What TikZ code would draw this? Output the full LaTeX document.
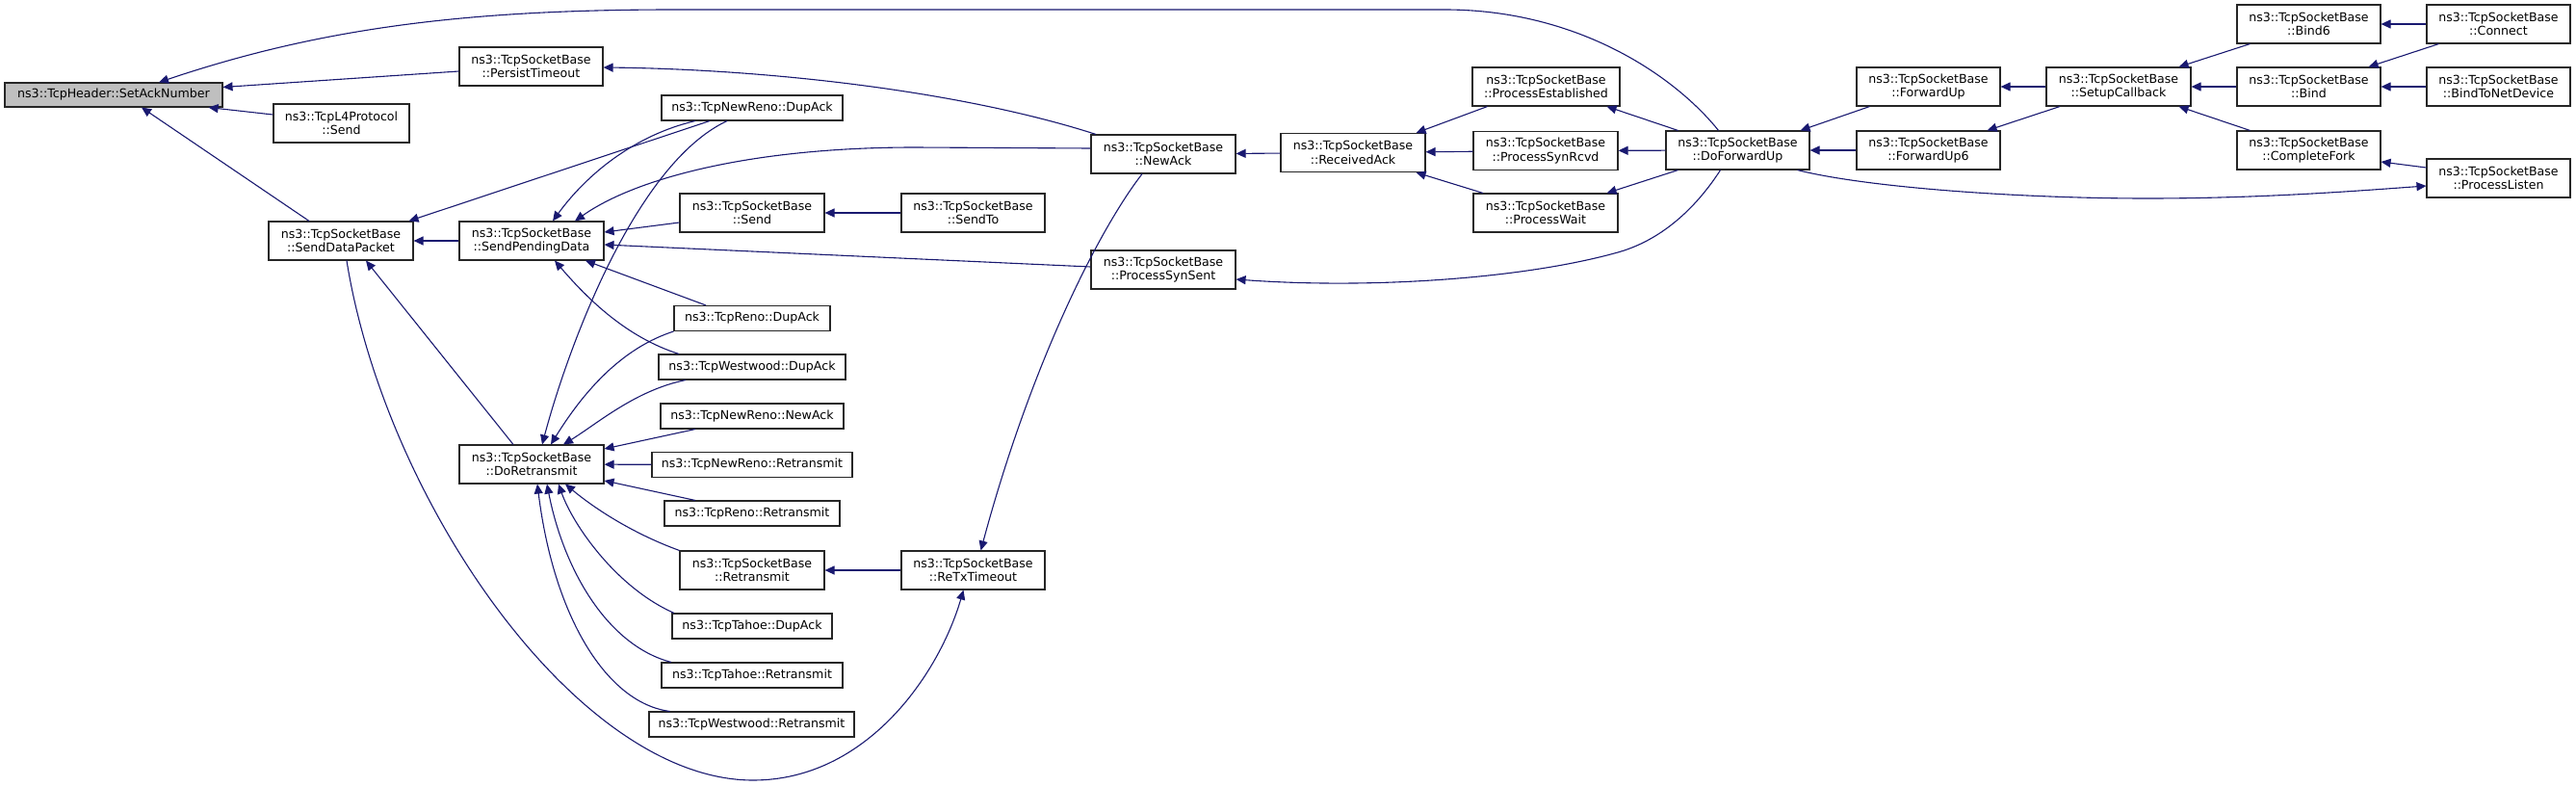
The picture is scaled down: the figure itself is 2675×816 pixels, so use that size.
\documentclass[tikz,border=0pt]{standalone}
\usepackage{fontspec}
\setmainfont{DejaVu Sans}
\usetikzlibrary{arrows.meta}
\definecolor{edgeblue}{HTML}{191970}
\definecolor{rootgray}{HTML}{BFBFBF}

\begin{document}
\begin{tikzpicture}[x=1pt,y=-1pt,>={Triangle[length=10pt,width=9pt]},
  every node/.style={font=\fontsize{12.6}{14.5}\selectfont}]
  \tikzstyle{func}=[rectangle, draw=black!85, fill=white, line width=1.1pt, align=center,
inner sep=2pt, minimum height=40pt, minimum width=150pt]
  \tikzstyle{leaf}=[func, minimum height=26pt]
  \tikzstyle{call}=[<-, edgeblue, line width=1.1pt]
  \tikzstyle{back}=[->, edgeblue, line width=1.1pt]
  \useasboundingbox (0,0) rectangle (2675,816);

  \node[func, fill=rootgray, minimum width=226pt, minimum height=25pt] (SetAck) at (118,98.5) {ns3::TcpHeader::SetAckNumber};
  \node[func, minimum width=149pt] (PersistTO) at (551.5,69) {ns3::TcpSocketBase\\::PersistTimeout};
  \node[func, minimum width=141pt] (L4Send) at (354.5,128) {ns3::TcpL4Protocol\\::Send};
  \node[func] (SendData) at (354,250) {ns3::TcpSocketBase\\::SendDataPacket};
  \node[func] (SendPend) at (552,250) {ns3::TcpSocketBase\\::SendPendingData};
  \node[func] (DoRetx) at (552,482) {ns3::TcpSocketBase\\::DoRetransmit};
  \node[leaf, minimum width=188pt] (NRDupAck) at (781,112) {ns3::TcpNewReno::DupAck};
  \node[func] (Send) at (781,221) {ns3::TcpSocketBase\\::Send};
  \node[func, minimum width=149pt] (SendTo) at (1010.5,221) {ns3::TcpSocketBase\\::SendTo};
  \node[leaf, minimum width=162pt] (RenoDupAck) at (781,330.5) {ns3::TcpReno::DupAck};
  \node[leaf, minimum width=194pt] (WWDupAck) at (781,381) {ns3::TcpWestwood::DupAck};
  \node[leaf, minimum width=190pt] (NRNewAck) at (781,432) {ns3::TcpNewReno::NewAck};
  \node[leaf, minimum width=208pt] (NRRetx) at (781,482.5) {ns3::TcpNewReno::Retransmit};
  \node[leaf, minimum width=182pt] (RenoRetx) at (781,533) {ns3::TcpReno::Retransmit};
  \node[func] (Retx) at (781,592) {ns3::TcpSocketBase\\::Retransmit};
  \node[leaf, minimum width=166pt] (TahoeDupAck) at (781,650) {ns3::TcpTahoe::DupAck};
  \node[leaf, minimum width=188pt] (TahoeRetx) at (781,701) {ns3::TcpTahoe::Retransmit};
  \node[leaf, minimum width=213pt] (WWRetx) at (780.5,752) {ns3::TcpWestwood::Retransmit};
  \node[func] (NewAck) at (1208,160) {ns3::TcpSocketBase\\::NewAck};
  \node[func] (SynSent) at (1208,280) {ns3::TcpSocketBase\\::ProcessSynSent};
  \node[func, minimum width=149pt] (ReTxTO) at (1010.5,592) {ns3::TcpSocketBase\\::ReTxTimeout};
  \node[func] (RecvAck) at (1405,158.5) {ns3::TcpSocketBase\\::ReceivedAck};
  \node[func, minimum width=153pt] (ProcEst) at (1605.5,90) {ns3::TcpSocketBase\\::ProcessEstablished};
  \node[func] (SynRcvd) at (1605,156.5) {ns3::TcpSocketBase\\::ProcessSynRcvd};
  \node[func] (ProcWait) at (1605,221) {ns3::TcpSocketBase\\::ProcessWait};
  \node[func, minimum width=149pt] (DoFwd) at (1804.5,156) {ns3::TcpSocketBase\\::DoForwardUp};
  \node[func, minimum width=149pt] (FwdUp) at (2002.5,90) {ns3::TcpSocketBase\\::ForwardUp};
  \node[func, minimum width=149pt] (FwdUp6) at (2002.5,156) {ns3::TcpSocketBase\\::ForwardUp6};
  \node[func] (Setup) at (2200,90) {ns3::TcpSocketBase\\::SetupCallback};
  \node[func, minimum width=149pt] (Bind6) at (2397.5,25) {ns3::TcpSocketBase\\::Bind6};
  \node[func, minimum width=149pt] (Bind) at (2397.5,90) {ns3::TcpSocketBase\\::Bind};
  \node[func, minimum width=149pt] (CFork) at (2397.5,156) {ns3::TcpSocketBase\\::CompleteFork};
  \node[func, minimum width=149pt] (Connect) at (2594.5,25) {ns3::TcpSocketBase\\::Connect};
  \node[func, minimum width=149pt] (BindND) at (2594.5,90) {ns3::TcpSocketBase\\::BindToNetDevice};
  \node[func, minimum width=149pt] (PListen) at (2594.5,185) {ns3::TcpSocketBase\\::ProcessListen};

  % callers of SetAckNumber
  \draw[call] ([xshift=47pt]SetAck.north) .. controls (330,30) and (480,10) .. (700,10) -- (1500,10) .. controls (1640,10) and (1740,80) .. ([xshift=-20pt]DoFwd.north);
  \draw[call] ([yshift=8pt]SetAck.east) -- ([yshift=-5pt]PersistTO.west);
  \draw[call] ([xshift=-15pt]SetAck.south east) -- ([yshift=9pt]L4Send.west);
  \draw[call] ([xshift=29pt]SetAck.south) -- ([xshift=-33pt]SendData.north);
  \draw[call] ([yshift=-1pt]PersistTO.east) .. controls (800,72) and (1000,95) .. ([xshift=-70pt]NewAck.north);

  % SendDataPacket
  \draw[call] (SendData) -- (SendPend);
  \draw[call] ([xshift=-5pt]SendData.north east) -- ([xshift=-44pt]NRDupAck.south);
  \draw[call] ([xshift=26pt]SendData.south) -- ([xshift=-19pt]DoRetx.north);
  \draw[back] ([xshift=6pt]SendData.south) .. controls (400,520) and (600,810) .. (782,810) .. controls (900,810) and (975,700) .. ([xshift=-10pt]ReTxTO.south);

  % SendPendingData
  \draw[call] ([xshift=22pt]SendPend.north) .. controls (610,180) and (660,140) .. ([xshift=-59pt]NRDupAck.south);
  \draw[call] ([xshift=45pt]SendPend.north) .. controls (660,185) and (780,153) .. (950,153) -- ([yshift=6pt]NewAck.west);
  \draw[call] ([yshift=9pt]SendPend.east) -- ([yshift=-10pt]Send.west);
  \draw[call] ([yshift=-4pt]SendPend.east) -- ([yshift=3pt]SynSent.west);
  \draw[call] ([xshift=56pt]SendPend.south) -- ([xshift=-48pt]RenoDupAck.north);
  \draw[call] ([xshift=24pt]SendPend.south) .. controls (610,310) and (650,350) .. ([xshift=-76pt]WWDupAck.north);

  % DoRetransmit
  \draw[call] ([xshift=11pt]DoRetx.north) .. controls (590,360) and (660,170) .. ([xshift=-26pt]NRDupAck.south);
  \draw[call] ([xshift=20pt]DoRetx.north) .. controls (610,400) and (650,360) .. (RenoDupAck.south west);
  \draw[call] ([xshift=33pt]DoRetx.north) .. controls (620,440) and (660,405) .. ([xshift=-69pt]WWDupAck.south);
  \draw[call] ([yshift=16pt]DoRetx.east) -- ([xshift=-59pt]NRNewAck.south);
  \draw[call] (DoRetx) -- (NRRetx);
  \draw[call] ([yshift=-17pt]DoRetx.east) -- ([xshift=-59pt]RenoRetx.north);
  \draw[call] ([xshift=35pt]DoRetx.south) .. controls (620,530) and (660,555) .. (Retx.north west);
  \draw[call] ([xshift=28pt]DoRetx.south) .. controls (595,545) and (640,610) .. ([xshift=-81pt]TahoeDupAck.north);
  \draw[call] ([xshift=16pt]DoRetx.south) .. controls (585,590) and (630,670) .. ([xshift=-84pt]TahoeRetx.north);
  \draw[call] ([xshift=6pt]DoRetx.south) .. controls (575,640) and (630,730) .. ([xshift=-85pt]WWRetx.north);

  % the rest of the callers
  \draw[call] (Send) -- (SendTo);
  \draw[call] (Retx) -- (ReTxTO);
  \draw[back] ([xshift=-22pt]NewAck.south) .. controls (1140,240) and (1070,380) .. ([xshift=8pt]ReTxTO.north);
  \draw[call] (NewAck) -- (RecvAck);
  \draw[call] ([xshift=-10pt]RecvAck.north east) -- ([xshift=-61pt]ProcEst.south);
  \draw[call] (RecvAck) -- (SynRcvd);
  \draw[call] ([xshift=-10pt]RecvAck.south east) -- ([xshift=-65pt]ProcWait.north);
  \draw[call] ([xshift=-14pt]ProcEst.south east) -- ([xshift=-62pt]DoFwd.north);
  \draw[call] (SynRcvd) -- (DoFwd);
  \draw[call] ([xshift=-12pt]ProcWait.north east) -- ([xshift=-62pt]DoFwd.south);
  \draw[call] ([yshift=-10pt]SynSent.east) .. controls (1420,300) and (1580,290) .. (1680,262) .. controls (1730,248) and (1765,210) .. ([xshift=-18pt]DoFwd.south);
  \draw[call] ([xshift=-10pt]DoFwd.north east) -- ([xshift=-61pt]FwdUp.south);
  \draw[call] (DoFwd) -- (FwdUp6);
  \draw[back] ([xshift=62pt]DoFwd.south) .. controls (1940,195) and (2100,206) .. (2230,206) .. controls (2350,206) and (2450,198) .. ([yshift=-8pt]PListen.west);
  \draw[call] (FwdUp) -- (Setup);
  \draw[call] ([xshift=-14pt]FwdUp6.north east) -- ([xshift=-61pt]Setup.south);
  \draw[call] ([xshift=-13pt]Setup.north east) -- ([xshift=-61pt]Bind6.south);
  \draw[call] (Setup) -- (Bind);
  \draw[call] ([xshift=-13pt]Setup.south east) -- ([xshift=-61pt]CFork.north);
  \draw[call] (Bind6) -- (Connect);
  \draw[call] ([xshift=-13pt]Bind.north east) -- ([xshift=-62pt]Connect.south);
  \draw[call] (Bind) -- (BindND);
  \draw[call] ([yshift=-12pt]CFork.east) -- ([yshift=11pt]PListen.west);
\end{tikzpicture}
\end{document}
